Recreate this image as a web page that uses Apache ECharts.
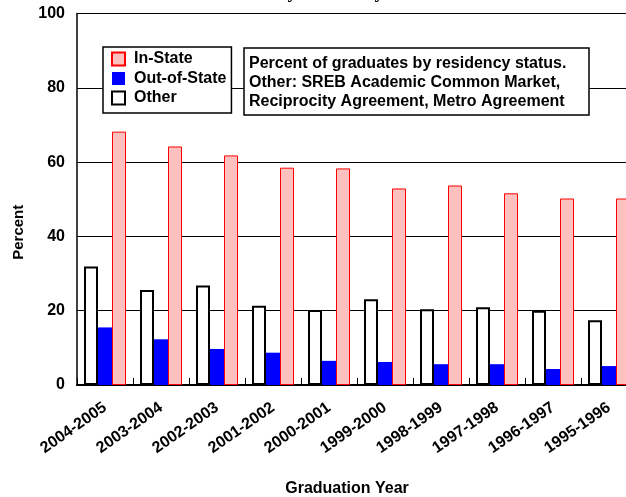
<!DOCTYPE html>
<html>
<head>
<meta charset="utf-8">
<script src="https://cdn.jsdelivr.net/npm/echarts@6/dist/echarts.min.js"></script>
<style>
html,body{margin:0;padding:0;background:#fff;}
#chart{width:626px;height:497px;}
</style>
</head>
<body>
<div id="chart"></div>
<script>
const categories = ['2004-2005','2003-2004','2002-2003','2001-2002','2000-2001','1999-2000','1998-1999','1997-1998','1996-1997','1995-1996'];
const otherValues = [31.9, 25.6, 26.8, 21.3, 20.2, 23.1, 20.4, 20.9, 20.0, 17.4];
const outOfStateValues = [15.5, 12.3, 9.7, 8.7, 6.5, 6.2, 5.6, 5.6, 4.3, 5.1];
const inStateValues = [68.2, 64.2, 61.8, 58.5, 58.3, 52.9, 53.7, 51.6, 50.2, 50.2];
const yTicks = [0, 20, 40, 60, 80, 100];
const noteLines = ['Percent of graduates by residency status.', 'Other: SREB Academic Common Market,', 'Reciprocity Agreement, Metro Agreement'];

const FONT = 'Liberation Sans, Arial, sans-serif';
const chart = echarts.init(document.getElementById('chart'), null, {renderer: 'canvas'});
chart.setOption({
  animation: false,
  backgroundColor: '#fff',
  title: [
    {
      text: 'Graduates by Residency Status',
      left: 'center', top: -21,
      textStyle: {fontFamily: 'Liberation Serif, serif', fontWeight: 'bold', fontSize: 19, color: '#000'}
    },
    {
      text: noteLines.join('\n'),
      left: 244, top: 48,
      padding: [6, 23, 4, 5],
      borderColor: '#000', borderWidth: 1.5,
      backgroundColor: '#fff',
      textStyle: {fontFamily: FONT, fontWeight: 'bold', fontSize: 16, lineHeight: 19, color: '#000'}
    }
  ],
  legend: {
    orient: 'vertical',
    left: 103, top: 47,
    padding: [4, 5, 7, 8],
    borderColor: '#000', borderWidth: 1.5,
    backgroundColor: '#fff',
    itemWidth: 13, itemHeight: 13, itemGap: 3.5,
    icon: 'rect',
    data: ['In-State', 'Out-of-State', 'Other'],
    textStyle: {fontFamily: FONT, fontWeight: 'bold', fontSize: 16, color: '#000', padding: [0, 0, 0, 4]}
  },
  grid: {left: 77, top: 13.5, width: 560, bottom: 112, containLabel: false, outerBoundsMode: 'none'},
  xAxis: {
    type: 'category',
    data: categories,
    name: 'Graduation Year',
    nameLocation: 'middle',
    nameGap: 96,
    nameTextStyle: {fontFamily: FONT, fontWeight: 'bold', fontSize: 16, color: '#000', padding: [0, 20, 0, 0]},
    axisLine: {lineStyle: {color: '#000', width: 2}},
    axisTick: {show: true, inside: true, length: 7, lineStyle: {color: '#000', width: 1}},
    axisLabel: {rotate: 35, interval: 0, margin: 21, fontFamily: FONT, fontWeight: 'bold', fontSize: 16, color: '#000'}
  },
  yAxis: {
    type: 'value',
    min: yTicks[0], max: yTicks[yTicks.length - 1], interval: yTicks[1] - yTicks[0],
    name: 'Percent',
    nameLocation: 'middle',
    nameGap: 51,
    nameTextStyle: {fontFamily: FONT, fontWeight: 'bold', fontSize: 15, color: '#000', padding: [0, 66, 0, 0]},
    axisLine: {show: true, lineStyle: {color: '#000', width: 1.5}},
    axisTick: {show: true, inside: true, length: 8, lineStyle: {color: '#000'}},
    axisLabel: {margin: 12, fontFamily: FONT, fontWeight: 'bold', fontSize: 16, color: '#000'},
    splitLine: {show: true, lineStyle: {color: '#000', width: 1}}
  },
  series: [
    {
      name: 'Other', type: 'bar', data: otherValues,
      barWidth: 14, barGap: '0%',
      itemStyle: {color: '#fff', borderColor: '#000', borderWidth: 2}
    },
    {
      name: 'Out-of-State', type: 'bar', data: outOfStateValues,
      barWidth: 14, barGap: '0%',
      itemStyle: {color: '#0000ff', borderColor: '#0000ff', borderWidth: 0}
    },
    {
      name: 'In-State', type: 'bar', data: inStateValues,
      barWidth: 14, barGap: '0%',
      itemStyle: {color: '#ffc0c0', borderColor: '#ff0000', borderWidth: 1}
    }
  ]
});
</script>
</body>
</html>
